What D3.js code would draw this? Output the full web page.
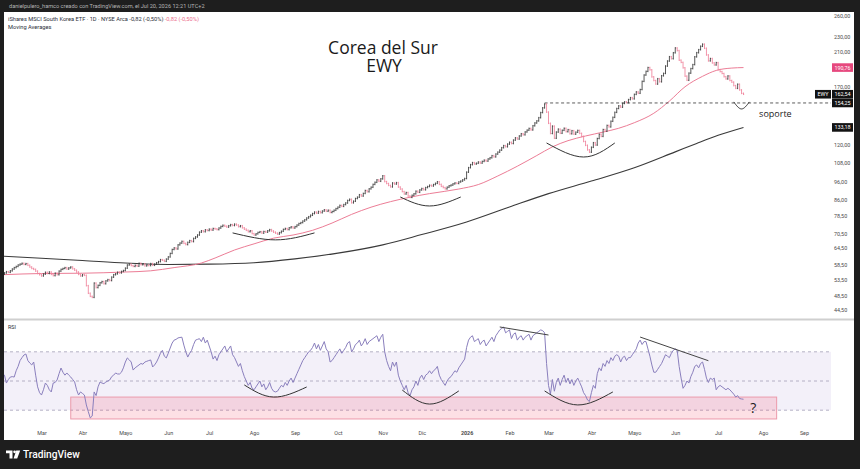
<!DOCTYPE html>
<html>
<head>
<meta charset="utf-8">
<script src="https://cdn.jsdelivr.net/npm/d3@7"></script>
<style>
  body { margin: 0; background: #1e1e1e; }
  svg { display: block; }
  text { font-family: Roboto, "Noto Sans", sans-serif; }
</style>
</head>
<body>
<svg id="chart" width="860" height="469"></svg>
<script>
// daily closes, one row per week (Mon..Fri), first bar Feb 3 2025, last bar Jul 20 2026
var closes = [
  55.2, 55.6, 56.0, 55.8, 56.3,   56.9, 57.4, 57.8, 58.3, 58.6,
  58.9, 58.5, 58.8, 58.2, 57.6,   57.1, 56.8, 56.2, 55.4, 55.0,
  54.6, 55.2, 55.8, 55.4, 55.9,   55.1, 54.7, 55.5, 55.0, 56.2,
  56.8, 57.1, 57.4, 56.9, 57.3,   57.6, 57.0, 56.5, 55.9, 55.1,
  54.6, 55.0, 54.8, 51.5, 49.2,   48.3, 48.0, 52.3, 50.9, 51.6,
  52.4, 52.8, 52.1, 53.0, 53.4,   53.1, 54.2, 55.0, 55.3, 55.8,
  55.6, 56.1, 56.4, 57.2, 58.3,   58.6, 58.1, 57.8, 58.2, 57.9,
  58.9, 58.4, 58.7, 58.0, 58.3,   58.1, 58.8, 58.2, 58.6, 59.1,
  59.5, 60.2, 60.0, 59.6, 60.4,   61.2, 62.5, 64.0, 64.6, 64.2,
  65.8, 66.5, 67.2, 66.4, 65.9,   66.8, 67.5, 67.1, 68.4, 69.0,
  69.8, 71.0, 71.6, 71.2, 72.0,   71.7, 72.3, 71.9, 72.6, 72.4,
  72.1, 72.8, 73.5, 74.0, 73.6,   73.2, 73.8, 74.3, 73.9, 74.5,
  74.1, 73.4, 73.8, 72.9, 72.3,   71.8, 71.2, 71.6, 70.4, 69.8,
  70.3, 70.9, 71.2, 70.6, 71.3,   71.0, 71.6, 72.1, 71.5, 71.0,
  70.6, 70.2, 70.8, 71.4, 72.2,   72.6, 72.1, 72.9, 73.3, 72.8,
  73.4, 74.1, 74.8, 75.2, 75.9,   76.5, 77.3, 77.9, 78.6, 79.4,
  80.1, 79.6, 80.4, 79.8, 80.6,   81.2, 80.5, 81.0, 79.9, 80.4,
  81.0, 81.8, 82.5, 83.4, 82.9,   83.8, 84.6, 85.9, 86.5, 84.7,
  85.5, 86.9, 87.6, 88.9, 88.2,   89.6, 91.2, 90.5, 92.1, 93.0,
  94.6, 95.8, 97.2, 96.4, 97.8,   99.6, 96.2, 95.1, 94.0, 93.2,
  95.4, 94.8, 95.6, 93.1, 92.0,   90.6, 89.3, 90.1, 88.2, 87.5,
  88.6, 89.4, 90.8, 90.2, 91.5,   92.3, 91.6, 92.8, 93.4, 94.1,
  93.7, 94.5, 95.2, 96.1, 94.6,   93.5, 92.8, 92.1, 93.0, 93.8,
  94.2, 94.9, 95.4, 95.1, 96.0,   96.5, 97.2, 98.0, 101.8, 104.6,
  106.5, 107.8, 106.9, 107.4, 108.2,   107.5, 108.6, 109.4, 108.8, 110.2,
  111.0, 112.4, 111.6, 113.5, 114.8,   116.2, 117.9, 119.4, 118.6, 120.5,
  121.8, 120.9, 123.4, 125.1, 124.2,   126.5, 128.2, 127.4, 129.6, 131.0,
  132.4, 131.2, 134.5, 136.8, 138.5,   141.2, 145.6, 149.8, 153.2, 146.0,
  136.5, 128.4, 134.2, 124.8, 129.5,   131.8, 128.6, 130.9, 132.5, 129.8,
  131.4, 128.2, 130.6, 127.9, 129.4,   130.8, 128.5, 126.2, 122.4, 119.6,
  116.4, 114.8, 118.2, 121.5, 119.8,   124.6, 127.8, 126.2, 131.5, 130.2,
  134.8, 133.6, 138.2, 141.5, 145.8,   149.2, 151.6, 150.4, 153.8, 155.2,
  154.6, 157.4, 159.2, 158.1, 162.4,   164.8, 163.5, 167.2, 175.6, 182.4,
  186.5, 190.8, 188.2, 180.4, 176.5,   172.8, 178.4, 175.2, 181.6, 184.2,
  192.5, 198.4, 203.6, 201.2, 208.5,   214.6, 211.2, 199.4, 196.8, 190.5,
  181.2, 176.8, 184.5, 189.6, 194.2,   203.5, 208.6, 212.4, 216.8, 219.5,
  214.2, 205.8, 198.6, 201.4, 196.2,   193.8, 196.5, 188.4, 186.2, 184.1,
  180.6, 178.2, 181.4, 176.5, 174.8,   171.2, 168.4, 172.6, 166.8, 163.4,
  162.54
];

// RSI(14), same bars
var rsiValues = [
  53, 54, 48.6, 51, 52.7,   53, 52.7, 57, 60, 64,
  66, 67.8, 68.5, 64, 62.3,   61, 63, 54, 46, 42,
  40.4, 44, 48.6, 47, 44,   42.5, 48.6, 49, 50.7, 55,
  58.9, 56, 54, 55.5, 54,   52.7, 51, 49.3, 44, 40.4,
  42.5, 41.5, 40.4, 33.6, 29,   24.7, 26, 42.5, 40, 46,
  49.3, 48.6, 48.2, 49.3, 50,   50.7, 53, 54, 55.5, 54.8,
  54.8, 56, 59, 63, 65.8,   64.5, 63, 57.5, 59, 60,
  61, 62, 61.5, 63, 63.5,   64, 64.4, 59.6, 61, 63,
  65.8, 69, 71, 67, 65.8,   69, 72.6, 76, 78, 78.5,
  79.5, 79.8, 80, 74.6, 70,   66.4, 69, 71, 75, 78,
  78.5, 79, 77, 80, 76,   78, 74, 70, 65, 67,
  64, 68, 70, 72, 74,   70, 72, 74, 68, 66,
  63, 60, 62, 57, 53,   50, 47, 49, 45, 44,
  46, 48, 50, 46, 48,   44, 46, 49, 45, 43,
  42.5, 43, 45, 47, 46,   49, 47, 50, 52, 49,
  52, 55, 58, 61, 64,   66, 68, 70, 71, 73,
  76, 72, 75, 71, 74,   77, 72, 70, 63, 64,
  66, 68, 70, 72, 69,   71, 73, 76, 77, 70,
  72, 75, 76, 78, 74,   76, 79, 75, 77, 78,
  79, 80, 81, 77, 80,   82, 70, 64, 60, 57,
  63, 60, 63, 54, 50,   47, 44, 47, 42, 40,
  44, 46, 50, 47, 52,   54, 51, 54, 55, 57,
  55, 57, 58, 60, 54,   51, 49, 47, 50, 52,
  53, 55, 57, 56, 59,   61, 63, 65, 73, 78,
  80, 81, 77, 78, 79,   75, 77, 78, 74, 76,
  78, 80, 77, 81, 83,   85, 86, 87, 83, 84,
  85, 79, 82, 83, 78,   80, 81, 78, 80, 81,
  82, 78, 81, 82, 83,   84, 85, 84.5, 83, 62,
  47, 41, 51, 43, 49,   52, 47, 51, 54, 49,
  52, 48, 51, 47, 50,   52, 49, 46, 42, 40,
  37, 36, 42, 47, 45,   55, 59, 57, 62, 60,
  64, 62, 66, 64, 67,   68, 67, 63, 66, 67,
  64, 66, 66, 68, 70,   72, 76, 78, 75, 77,
  77, 72, 67, 61, 56,   56, 58, 60, 62, 65,
  68, 67, 66, 69, 71,   72, 71, 60, 52, 45,
  47, 50, 48.6, 53, 56,   60, 61, 59, 62, 63,
  58, 52, 49, 52, 51,   52, 44, 46, 47, 46,
  45, 44, 45, 44, 42.5,   41, 39, 40, 38, 37.7,
  37.5
];

// moving averages
var ma50 = [
  ["2025-02-03", 55.0], ["2025-03-03", 55.4], ["2025-04-01", 55.5], ["2025-05-01", 55.9],
  ["2025-05-20", 56.3], ["2025-06-05", 57.4], ["2025-06-25", 59.0], ["2025-07-04", 60.8],
  ["2025-07-18", 63.8], ["2025-08-01", 66.2], ["2025-08-15", 68.5], ["2025-08-29", 69.8],
  ["2025-09-12", 71.8], ["2025-09-26", 75.0], ["2025-10-10", 79.0], ["2025-10-24", 82.5],
  ["2025-11-07", 85.3], ["2025-11-21", 87.6], ["2025-12-05", 89.5], ["2025-12-26", 92.0],
  ["2026-01-09", 94.5], ["2026-01-23", 99.5], ["2026-02-06", 105.5], ["2026-02-20", 112.5],
  ["2026-03-04", 118.5], ["2026-03-16", 123.0], ["2026-03-27", 126.5], ["2026-04-09", 129.5],
  ["2026-04-21", 132.5], ["2026-05-01", 137.0], ["2026-05-15", 145.0], ["2026-05-27", 156.0],
  ["2026-06-08", 170.0], ["2026-06-19", 181.0], ["2026-06-30", 187.5], ["2026-07-10", 190.2],
  ["2026-07-20", 190.76]
];
var ma200 = [
  ["2025-02-03", 61.5], ["2025-03-03", 60.7], ["2025-04-01", 59.9], ["2025-05-01", 59.0],
  ["2025-06-02", 58.5], ["2025-07-01", 58.6], ["2025-08-01", 59.1], ["2025-09-01", 60.5],
  ["2025-10-01", 62.6], ["2025-11-03", 65.8], ["2025-12-01", 70.0], ["2026-01-01", 75.5],
  ["2026-02-02", 82.6], ["2026-03-02", 89.5], ["2026-04-01", 96.5], ["2026-05-01", 104.5],
  ["2026-06-01", 115.0], ["2026-06-16", 121.0], ["2026-07-01", 127.0], ["2026-07-20", 133.18]
];

var priceTicks = [260, 230, 210, 170, 120, 108, 96, 86, 78.5, 70.5, 64.5, 58.5, 53.5, 48.5, 44.5];
var rsiTicks = [90, 80, 70, 60, 50, 40, 30, 20];
var monthTicks = ["2025-03-01", "2025-04-01", "2025-05-01", "2025-06-01", "2025-07-01", "2025-08-01",
  "2025-09-01", "2025-10-01", "2025-11-01", "2025-12-01", "2026-01-01", "2026-02-01", "2026-03-01",
  "2026-04-01", "2026-05-01", "2026-06-01", "2026-07-01", "2026-08-01", "2026-09-01"];
var monthLabels = ["Mar", "Abr", "Mayo", "Jun", "Jul", "Ago", "Sep", "Oct", "Nov", "Dic", "2026",
  "Feb", "Mar", "Abr", "Mayo", "Jun", "Jul", "Ago", "Sep"];

var supportLevel = 154.25;
var supportFrom = "2026-02-26";

// hand drawn marks on the chart (date, value)
var priceArcs = [
  [["2025-07-17", 70.7], ["2025-08-18", 67.8], ["2025-09-15", 70.7]],
  [["2025-11-14", 87.7], ["2025-12-05", 83.1], ["2025-12-29", 87.7]],
  [["2026-02-27", 121.3], ["2026-03-26", 111.5], ["2026-04-17", 121.3]],
  [["2026-07-13", 155.2], ["2026-07-17", 148.8], ["2026-07-23", 155.2]]
];
var rsiArcs = [
  [["2025-07-25", 47.3], ["2025-08-15", 39], ["2025-09-09", 45.9]],
  [["2025-11-17", 43.8], ["2025-12-05", 34.2], ["2025-12-26", 43.2]],
  [["2026-02-26", 43.2], ["2026-03-23", 33.6], ["2026-04-16", 42.5]]
];
var rsiLines = [
  [["2026-01-26", 87], ["2026-03-02", 81.5]],
  [["2026-05-06", 80.1], ["2026-06-24", 63.9]]
];
var rsiBox = { from: "2025-03-24", to: "2026-08-12", lo: 24, hi: 39 };

// trading calendar (weekdays) so bars sit on an index axis like TradingView
var parse = d3.timeParse("%Y-%m-%d");
var days = d3.timeDay.range(parse("2025-02-03"), parse("2026-10-01"))
  .filter(function(d) { return d.getDay() > 0 && d.getDay() < 6; });
function idx(s) { return d3.bisectLeft(days, parse(s)); }

var fmt = function(v) { return d3.format(".2f")(v).replace(".", ","); };

var x = d3.scaleLinear().domain([0, 380]).range([2.5, 743.5]);
var y = d3.scaleLog().domain([44.5, 260]).range([310, 16]);
var yr = d3.scaleLinear().domain([20, 90]).range([424.8, 322.6]);

var svg = d3.select("#chart");
svg.append("rect").attr("width", 860).attr("height", 469).attr("fill", "#1e1e1e");
svg.append("rect").attr("x", 4).attr("y", 12).attr("width", 850).attr("height", 428).attr("fill", "#fff");

var defs = svg.append("defs");
defs.append("clipPath").attr("id", "clipPrice").append("rect")
  .attr("x", 4).attr("y", 12).attr("width", 827).attr("height", 306);
defs.append("clipPath").attr("id", "clipRsi").append("rect")
  .attr("x", 4).attr("y", 321).attr("width", 827).attr("height", 106);
defs.append("clipPath").attr("id", "clipRsiAxis").append("rect")
  .attr("x", 831).attr("y", 321).attr("width", 23).attr("height", 108);

// header
svg.append("text").attr("x", 9).attr("y", 8.2).attr("font-size", 5.6).attr("fill", "#b5b5b5")
  .text("danielpulero_hamco creado con TradingView.com, el Jul 20, 2026 12:21 UTC+2");
var head = svg.append("text").attr("x", 8).attr("y", 20.6).attr("font-size", 5.7).attr("fill", "#2a2e39");
head.append("tspan").text("iShares MSCI South Korea ETF · 1D · NYSE Arca  -0,82 (-0,50%)");
head.append("tspan").attr("fill", "#ec6f8e").text("  -0,82 (-0,50%)");
svg.append("text").attr("x", 8).attr("y", 28.6).attr("font-size", 5.7).attr("fill", "#2a2e39")
  .text("Moving Averages");

var title = svg.append("text").attr("text-anchor", "middle")
  .style("font-family", "'Open Sans', sans-serif").attr("font-size", 17.5).attr("fill", "#1a1a1a");
title.append("tspan").attr("x", 383).attr("y", 53.5).text("Corea del Sur");
title.append("tspan").attr("x", 384).attr("y", 71.8).text("EWY");

// price pane
var gp = svg.append("g").attr("clip-path", "url(#clipPrice)");

var maLine = d3.line()
  .x(function(d) { return x(idx(d[0])); })
  .y(function(d) { return y(d[1]); })
  .curve(d3.curveMonotoneX);
gp.append("path").attr("d", maLine(ma200)).attr("fill", "none").attr("stroke", "#3a3a3a").attr("stroke-width", 1.1);
gp.append("path").attr("d", maLine(ma50)).attr("fill", "none").attr("stroke", "#ec7d96").attr("stroke-width", 1);

gp.append("line")
  .attr("x1", x(idx(supportFrom))).attr("x2", 831)
  .attr("y1", y(supportLevel)).attr("y2", y(supportLevel))
  .attr("stroke", "#333").attr("stroke-width", 0.8).attr("stroke-dasharray", "3,2.5");

// OHLC bars (open = previous close), short ticks so bars stay apart
gp.selectAll("path.bar").data(closes).enter().append("path")
  .attr("class", "bar")
  .attr("d", function(c, i) {
    var o = i ? closes[i - 1] : c, xx = x(i);
    return "M" + xx + "," + (y(Math.max(o, c)) - 0.8) + "V" + (y(Math.min(o, c)) + 0.8) +
      "M" + (xx - 0.7) + "," + y(o) + "H" + xx + "M" + xx + "," + y(c) + "H" + (xx + 0.7);
  })
  .attr("fill", "none")
  .attr("stroke", function(c, i) { return i && c < closes[i - 1] ? "#f0839c" : "#3a3a3a"; })
  .attr("stroke-width", 0.85);

var arc = d3.line()
  .x(function(d) { return x(idx(d[0])); })
  .y(function(d) { return y(d[1]); })
  .curve(d3.curveNatural);
gp.selectAll("path.arc").data(priceArcs).enter().append("path")
  .attr("class", "arc").attr("d", arc)
  .attr("fill", "none").attr("stroke", "#333").attr("stroke-width", 1);

svg.append("text").attr("x", x(idx("2026-07-30"))).attr("y", y(141.8))
  .style("font-family", "'Open Sans', sans-serif").attr("font-size", 9).attr("fill", "#1a1a1a")
  .text("soporte");

// price axis
var ax = svg.append("g").attr("transform", "translate(831,0)")
  .call(d3.axisRight(y).tickValues(priceTicks).tickFormat(fmt).tickSize(0).tickPadding(3));
ax.select(".domain").remove();
ax.selectAll("text").attr("font-size", 5.4).attr("fill", "#4a4a4a").style("font-family", "Roboto, sans-serif");

// last value labels
function tag(v, color, xx, w, label) {
  var yy = y(v);
  svg.append("rect").attr("x", xx).attr("y", yy - 4.3).attr("width", w).attr("height", 8.6).attr("fill", color);
  svg.append("text").attr("x", xx + w / 2).attr("y", yy + 2).attr("text-anchor", "middle")
    .attr("font-size", 5.4).attr("fill", "#fff").text(label);
}
tag(ma50[ma50.length - 1][1], "#e6487e", 832, 21, fmt(ma50[ma50.length - 1][1]));
tag(closes[closes.length - 1], "#131313", 815, 16, "EWY");
tag(closes[closes.length - 1], "#131313", 832, 21, fmt(closes[closes.length - 1]));
tag(supportLevel, "#131313", 832, 21, fmt(supportLevel));
tag(ma200[ma200.length - 1][1], "#131313", 832, 21, fmt(ma200[ma200.length - 1][1]));

// pane separator
svg.append("line").attr("x1", 4).attr("x2", 854).attr("y1", 319.5).attr("y2", 319.5)
  .attr("stroke", "#cfcfcf").attr("stroke-width", 2);

// RSI pane
var gr = svg.append("g").attr("clip-path", "url(#clipRsi)");
gr.append("rect").attr("x", 4).attr("width", 827)
  .attr("y", yr(70)).attr("height", yr(30) - yr(70)).attr("fill", "#7e57c2").attr("opacity", 0.09);
gr.selectAll("line.lvl").data([70, 50, 30]).enter().append("line")
  .attr("class", "lvl").attr("x1", 4).attr("x2", 831)
  .attr("y1", function(d) { return yr(d); }).attr("y2", function(d) { return yr(d); })
  .attr("stroke", "#a3a0b8").attr("stroke-width", 0.8).attr("stroke-dasharray", "3,3");

gr.append("rect")
  .attr("x", x(idx(rsiBox.from))).attr("width", x(idx(rsiBox.to)) - x(idx(rsiBox.from)))
  .attr("y", yr(rsiBox.hi)).attr("height", yr(rsiBox.lo) - yr(rsiBox.hi))
  .attr("fill", "#f23d5c").attr("fill-opacity", 0.16).attr("stroke", "#ec9aab").attr("stroke-width", 1);

var rsiLine = d3.line().x(function(d, i) { return x(i); }).y(function(d) { return yr(d); });
gr.append("path").attr("d", rsiLine(rsiValues)).attr("fill", "none")
  .attr("stroke", "#8a7fbd").attr("stroke-width", 1);

var arcR = d3.line()
  .x(function(d) { return x(idx(d[0])); })
  .y(function(d) { return yr(d[1]); })
  .curve(d3.curveNatural);
gr.selectAll("path.arc").data(rsiArcs).enter().append("path")
  .attr("class", "arc").attr("d", arcR)
  .attr("fill", "none").attr("stroke", "#333").attr("stroke-width", 1);
gr.selectAll("path.div").data(rsiLines).enter().append("path")
  .attr("class", "div").attr("d", d3.line().x(function(d) { return x(idx(d[0])); }).y(function(d) { return yr(d[1]); }))
  .attr("fill", "none").attr("stroke", "#444").attr("stroke-width", 1);

gr.append("text").attr("x", x(idx("2026-07-27"))).attr("y", yr(28)).attr("text-anchor", "middle")
  .style("font-family", "'Open Sans', sans-serif").attr("font-size", 14).attr("fill", "#1a1a1a").text("?");

svg.append("text").attr("x", 8).attr("y", 329).attr("font-size", 5.4).attr("fill", "#2a2e39").text("RSI");

var axr = svg.append("g").attr("transform", "translate(831,0)").attr("clip-path", "url(#clipRsiAxis)")
  .call(d3.axisRight(yr).tickValues(rsiTicks).tickFormat(fmt).tickSize(0).tickPadding(3));
axr.select(".domain").remove();
axr.selectAll("text").attr("font-size", 5.4).attr("fill", "#4a4a4a").style("font-family", "Roboto, sans-serif");

// time axis
var axb = svg.append("g").attr("transform", "translate(0,430)")
  .call(d3.axisBottom(x).tickValues(monthTicks.map(idx))
    .tickFormat(function(d, i) { return monthLabels[i]; }).tickSize(0).tickPadding(1));
axb.select(".domain").remove();
axb.selectAll("text").attr("font-size", 5.4).attr("fill", "#4a4a4a").style("font-family", "Roboto, sans-serif")
  .attr("font-weight", function(d, i) { return monthLabels[i] === "2026" ? "bold" : null; });

// TradingView mark at the bottom
var logo = svg.append("g").attr("fill", "#fff");
logo.append("path").attr("d", "M6,450.5H12.5V458.5H9.5V453.2H6Z");
logo.append("circle").attr("cx", 14.6).attr("cy", 451.8).attr("r", 1.35);
logo.append("path").attr("d", "M16.2,450.5H20.2L17.2,458.5H13.6Z");
svg.append("text").attr("x", 23).attr("y", 458.3).attr("font-size", 10.2).attr("font-weight", 500)
  .attr("fill", "#fff").text("TradingView");
</script>
</body>
</html>
